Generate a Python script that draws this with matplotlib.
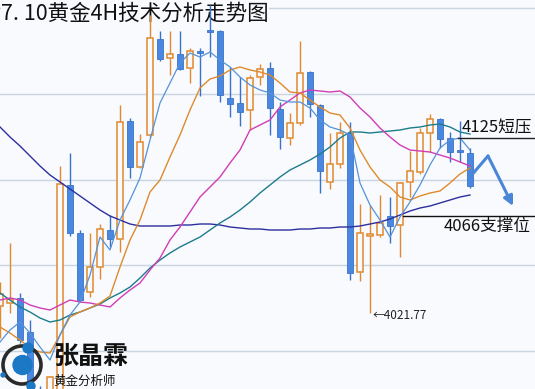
import numpy as np
import matplotlib

matplotlib.use("Agg")
import matplotlib.pyplot as plt
from matplotlib.patches import Circle

plt.rcParams["font.family"] = ["Noto Sans CJK SC", "DejaVu Sans"]

# 4H candles (oldest first)
opens = [4025.3, 4026.8, 4029.3, 4012.3, 3982.3, 3978.3, 3980.8, 4085.8, 4061.8, 4032.3,
         4044.8, 4063.3, 4058.8, 4117.8, 4094.8, 4110.8, 4158.8, 4149.3, 4151.3, 4144.3,
         4152.8, 4163.3, 4162.8, 4129.3, 4126.8, 4123.3, 4139.8, 4144.3, 4123.8, 4109.3,
         4116.8, 4142.3, 4125.8, 4087.3, 4096.3, 4111.8, 4042.3, 4060.3, 4060.8, 4070.3,
         4065.8, 4087.3, 4092.3, 4111.8, 4118.8, 4109.3, 4103.3, 4101.8]
highs = [4037.3, 4056.8, 4031.8, 4018.3, 3985.3, 3990.3, 4095.3, 4101.8, 4063.3, 4061.8,
         4066.3, 4070.8, 4125.8, 4119.3, 4111.3, 4170.8, 4162.8, 4162.8, 4162.8, 4154.3,
         4154.3, 4175.8, 4163.3, 4144.8, 4139.8, 4140.8, 4146.3, 4147.3, 4127.3, 4121.8,
         4157.8, 4142.8, 4126.3, 4111.8, 4117.3, 4117.3, 4076.3, 4075.8, 4080.8, 4079.8,
         4087.3, 4102.8, 4114.3, 4121.3, 4119.3, 4112.3, 4117.8, 4104.3]
lows = [4009.3, 4021.8, 4006.8, 3979.3, 3970.8, 3975.8, 3979.3, 4060.3, 4027.3, 4029.8,
        4038.8, 4054.8, 4052.3, 4089.3, 4094.3, 4109.8, 4147.8, 4140.8, 4143.3, 4136.8,
        4130.3, 4149.8, 4127.3, 4119.8, 4115.3, 4113.3, 4135.8, 4110.8, 4103.8, 4105.8,
        4115.8, 4119.8, 4081.8, 4083.8, 4094.3, 4038.3, 4037.8, 4021.77, 4059.8, 4056.8,
        4049.8, 4079.8, 4091.3, 4102.3, 4104.3, 4097.3, 4097.3, 4084.3]
closes = [4031.3, 4028.8, 4008.3, 3982.3, 3973.3, 3989.8, 4086.3, 4061.8, 4028.3, 4044.8,
          4063.8, 4058.8, 4117.3, 4094.8, 4107.3, 4159.3, 4148.8, 4151.3, 4143.8, 4152.8,
          4151.8, 4162.3, 4130.8, 4126.3, 4122.3, 4139.3, 4143.8, 4124.3, 4109.8, 4116.8,
          4141.8, 4126.3, 4092.8, 4096.3, 4111.8, 4041.8, 4061.8, 4061.3, 4066.8, 4065.3,
          4086.8, 4092.8, 4111.8, 4118.8, 4108.8, 4102.3, 4102.3, 4085.3]

# moving averages as drawn on the chart
ma_fast = [4007.3, 4013.3, 4017.3, 4011.8, 4004.8, 3998.3, 4010.8, 4020.8, 4027.3, 4040.8,
           4059.8, 4053.3, 4068.3, 4078.3, 4089.3, 4108.3, 4126.8, 4136.8, 4146.8, 4151.8,
           4149.8, 4152.3, 4148.3, 4144.8, 4139.8, 4135.8, 4133.3, 4131.8, 4128.3, 4127.3,
           4127.3, 4124.3, 4118.3, 4114.8, 4113.3, 4110.8, 4086.8, 4075.8, 4068.3, 4059.8,
           4069.8, 4077.3, 4085.8, 4095.8, 4104.3, 4108.3, 4109.3, 4103.3]
ma_orange = [4014.8, 4011.8, 4008.3, 4004.3, 4002.3, 4001.8, 4010.8, 4019.8, 4022.3, 4024.3,
             4026.8, 4030.3, 4044.8, 4058.3, 4068.3, 4082.3, 4088.3, 4099.8, 4110.8, 4123.3,
             4134.3, 4138.8, 4140.3, 4143.3, 4144.8, 4143.3, 4142.3, 4140.8, 4136.8, 4132.3,
             4131.8, 4128.3, 4124.8, 4121.8, 4120.8, 4114.3, 4103.3, 4094.8, 4088.3, 4084.8,
             4079.8, 4078.3, 4080.3, 4081.8, 4082.8, 4086.8, 4091.3, 4094.3]
ma_magenta = [4028.3, 4029.3, 4028.3, 4025.8, 4024.3, 4023.3, 4025.8, 4028.3, 4027.3, 4026.8,
              4025.8, 4024.8, 4029.3, 4033.3, 4036.8, 4043.3, 4049.3, 4058.3, 4064.8, 4072.3,
              4079.8, 4084.8, 4089.8, 4096.8, 4103.3, 4113.3, 4115.8, 4118.3, 4124.8, 4128.3,
              4131.8, 4133.3, 4132.8, 4132.3, 4132.8, 4129.8, 4124.3, 4119.8, 4114.3, 4109.8,
              4105.8, 4103.3, 4102.8, 4102.3, 4100.8, 4099.3, 4097.3, 4095.3]
ma_teal = [4031.8, 4028.3, 4024.8, 4022.3, 4019.3, 4017.3, 4018.3, 4020.8, 4022.3, 4024.3,
           4026.3, 4029.3, 4031.8, 4034.8, 4039.3, 4044.3, 4048.3, 4051.8, 4054.8, 4057.3,
           4059.8, 4063.3, 4066.8, 4069.8, 4073.3, 4077.3, 4081.8, 4085.8, 4089.8, 4093.3,
           4095.8, 4098.3, 4101.3, 4104.8, 4109.3, 4112.3, 4112.3, 4111.8, 4112.3, 4112.8,
           4113.3, 4114.3, 4114.8, 4115.8, 4116.3, 4114.8, 4112.3, 4111.3]
ma_navy = [4114.8, 4109.8, 4105.3, 4100.3, 4095.3, 4090.8, 4087.3, 4083.8, 4080.3, 4076.8,
           4073.3, 4070.3, 4068.3, 4066.3, 4065.3, 4065.3, 4065.3, 4065.3, 4065.8, 4065.8,
           4066.3, 4066.3, 4065.8, 4064.8, 4064.3, 4063.8, 4063.8, 4063.3, 4063.3, 4063.3,
           4063.8, 4063.8, 4064.3, 4064.3, 4064.8, 4064.8, 4065.3, 4066.3, 4067.3, 4068.8,
           4070.8, 4072.8, 4074.3, 4075.3, 4076.8, 4078.3, 4079.8, 4080.8]

grid_levels = [4174.3, 4131.3, 4088.3, 4045.8, 4002.8]

title = "7. 10黄金4H技术分析走势图"
resistance, support = 4125, 4066
resist_line, support_line = 4109.3, 4070.3     # where the hand-drawn lines sit
low_value, low_index = 4021.77, 37
# projected path: bar index / price
path_x = [47, 48.8, 51.3]
path_y = [4089.8, 4100.3, 4075.3]

BG = "#f8fafd"
ORANGE = "#e0892e"
BLUE = "#4a87df"
BLUE_EDGE = "#3a72c9"

fig = plt.figure(figsize=(5.35, 3.89), dpi=100, facecolor=BG)
ax = fig.add_axes([0, 0, 1, 1], facecolor=BG)

o, h, l, c = (np.array(v) for v in (opens, highs, lows, closes))
x = np.arange(len(o))
up = c >= o
lo, hi = np.minimum(o, c), np.maximum(o, c)

ax.vlines(x[up], l[up], lo[up], color=ORANGE, lw=1.0, zorder=3)
ax.vlines(x[up], hi[up], h[up], color=ORANGE, lw=1.0, zorder=3)
ax.bar(x[up], np.maximum(hi[up] - lo[up], 0.6), bottom=lo[up], width=0.6,
       facecolor=BG, edgecolor=ORANGE, lw=1.1, zorder=3)
ax.vlines(x[~up], l[~up], h[~up], color=BLUE_EDGE, lw=1.0, zorder=3)
ax.bar(x[~up], np.maximum(hi[~up] - lo[~up], 0.8), bottom=lo[~up], width=0.6,
       facecolor=BLUE, edgecolor=BLUE_EDGE, lw=0.6, zorder=3)

ax.plot(x, ma_navy, color="#2d2f9e", lw=1.0, zorder=4)
ax.plot(x, ma_teal, color="#1c7c8c", lw=1.0, zorder=4)
ax.plot(x, ma_magenta, color="#d23db6", lw=1.0, zorder=4)
ax.plot(x, ma_orange, color="#df8a2c", lw=1.0, zorder=4)
ax.plot(x, ma_fast, color="#5593d9", lw=0.9, zorder=4)

ax.set_xlim(0, 53.5)
ax.set_ylim(3983.8, 4178.3)
ax.set_yticks(grid_levels)
ax.grid(axis="y", color="#c9d5e2", lw=1.0, zorder=0)
ax.tick_params(left=False, bottom=False, labelleft=False, labelbottom=False)
for s in ax.spines.values():
    s.set_visible(False)

# annotations
ax.text(0.1, 4176.8, title, fontsize=15.5, color="#111111", va="top", ha="left",
        zorder=2, bbox=dict(facecolor=BG, edgecolor="none", pad=0))
ax.text(low_index + 0.25, low_value - 1.3, "\u2190" + f"{low_value:.2f}", fontsize=8.5,
        color="#222222", va="center", ha="left", zorder=5)

ax.plot([45.8, 53.5], [resist_line, resist_line], color="#222222", lw=1.0, zorder=5)
ax.text(46.2, resist_line + 0.8, f"{resistance}短压", fontsize=12, color="#111111",
        va="bottom", ha="left", zorder=5)
ax.plot([40.3, 53.5], [support_line, support_line], color="#111111", lw=1.0, zorder=5)
ax.text(44.4, support_line - 1.0, f"{support}支撑位", fontsize=12, color="#111111",
        va="top", ha="left", zorder=5)

ax.plot(path_x[:2], path_y[:2], color="#4a86d8", lw=2.2, solid_capstyle="round", zorder=5)
ax.annotate("", xy=(path_x[2], path_y[2]), xytext=(path_x[1], path_y[1]),
            arrowprops=dict(arrowstyle="-|>", color="#4a86d8", lw=2.2,
                            mutation_scale=14, shrinkA=0, shrinkB=0), zorder=5)

# logo, bottom-left
lax = fig.add_axes([0, 0, 62 / 535, 54 / 389])
lax.set_xlim(0, 62)
lax.set_ylim(389, 335)
lax.axis("off")
LOGO = "#1b78c4"
lax.add_patch(Circle((22, 365), 19, fill=False, ec="#2a2a2a", lw=2.6))
lax.add_patch(Circle((22.5, 365), 9.5, color=LOGO))
lax.add_patch(Circle((28, 348), 5, color=LOGO))
lax.add_patch(Circle((31, 386), 4, color=LOGO))
lax.add_patch(Circle((3, 375), 2, color=LOGO))

fig.text(53 / 535, 1 - 357 / 389, "张晶霖", fontsize=18, fontweight="bold",
         color="#111111", va="center", ha="left")
fig.text(53 / 535, 1 - 381 / 389, "黄金分析师", fontsize=9, color="#111111",
         va="center", ha="left")

fig.savefig("out.png", dpi=100, facecolor=BG)
